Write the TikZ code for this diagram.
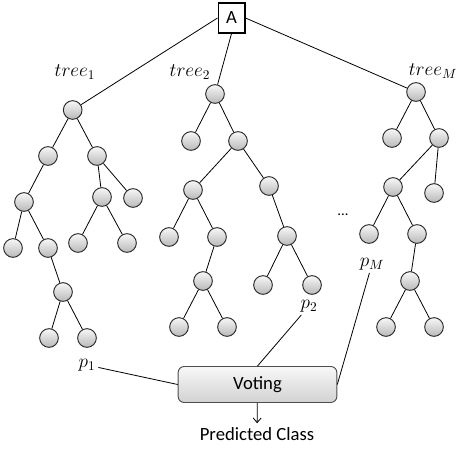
\documentclass[tikz,border=0pt]{standalone}
\usepackage[no-math]{fontspec}
\setmainfont{Carlito}
\usepackage{amsmath}
\usepackage{tikz}
\usetikzlibrary{arrows,arrows.meta,calc}

\begin{document}
\begin{tikzpicture}[x=0.75pt,y=-0.75pt,
        vertex/.style={circle,draw=black!85,line width=0.7pt,inner sep=0pt,minimum size=14pt,top color=gray!6,bottom color=gray!55},
        edge/.style={draw=black,line width=0.6pt},
        mlabel/.style={font=\fontsize{14.5}{16}\selectfont,inner sep=2pt},
        txt/.style={font=\fontsize{14}{16}\selectfont}]
        \useasboundingbox (0,0) rectangle (466,456);
        \node[draw=black,line width=1pt,minimum width=20pt,minimum height=22.5pt,inner sep=0pt,txt] (A) at (231.5,18) {A};
        \node[mlabel] (l1) at (75,72) {$tree_1$};
        \node[mlabel] (l2) at (190,72) {$tree_2$};
        \node[mlabel] (lM) at (433,71) {$tree_M$};
        \node[vertex] (a) at (72.7,110) {};
        \node[vertex] (a1) at (48,156) {};
        \node[vertex] (a2) at (97,156) {};
        \node[vertex] (a11) at (24,202) {};
        \node[vertex] (a21) at (102,197) {};
        \node[vertex] (a22) at (133,198) {};
        \node[vertex] (a111) at (13,248) {};
        \node[vertex] (a112) at (48,248) {};
        \node[vertex] (a211) at (78,243) {};
        \node[vertex] (a212) at (127,243) {};
        \node[vertex] (a1121) at (63,292) {};
        \node[vertex] (a11211) at (49,338) {};
        \node[vertex] (a11212) at (87,338) {};
        \node[vertex] (b) at (215,94) {};
        \node[vertex] (b1) at (191,141) {};
        \node[vertex] (b2) at (238,141) {};
        \node[vertex] (b21) at (193,190) {};
        \node[vertex] (b22) at (269,186) {};
        \node[vertex] (b211) at (169,237) {};
        \node[vertex] (b212) at (217,237) {};
        \node[vertex] (b221) at (287,236) {};
        \node[vertex] (b2121) at (203,281) {};
        \node[vertex] (b2211) at (263,285) {};
        \node[vertex] (b2212) at (312,285) {};
        \node[vertex] (b21211) at (179,327) {};
        \node[vertex] (b21212) at (227,327) {};
        \node[vertex] (c) at (416,92) {};
        \node[vertex] (c1) at (392,138) {};
        \node[vertex] (c2) at (439,138) {};
        \node[vertex] (c21) at (393,187) {};
        \node[vertex] (c22) at (434,193) {};
        \node[vertex] (c211) at (369,234) {};
        \node[vertex] (c212) at (417,234) {};
        \node[vertex] (c2121) at (410,281) {};
        \node[vertex] (c21211) at (386,327) {};
        \node[vertex] (c21212) at (434,327) {};
        \node[font=\fontsize{11}{13}\selectfont] (dots) at (343,215) {...};
        \node[mlabel] (p1) at (87,365) {$p_1$};
        \node[mlabel] (p2) at (309,306) {$p_2$};
        \node[mlabel] (pM) at (372,264) {$p_M$};
        \node[draw=black!70,line width=0.7pt,rounded corners=4.5pt,minimum width=119pt,minimum height=27pt,top color=gray!6,bottom color=gray!35,txt] (vote) at (257.5,384.5) {Voting};
        \node[txt] (pc) at (257,434.5) {Predicted Class};
        \draw[edge] (A.west) -- (a);
        \draw[edge] (A.south) -- (b);
        \draw[edge] (A.east) -- (c);
        \draw[edge] (a) -- (a1) (a) -- (a2) (a1) -- (a11) (a2) -- (a21) (a2) -- (a22)
              (a11) -- (a111) (a11) -- (a112) (a21) -- (a211) (a21) -- (a212)
              (a112) -- (a1121) (a1121) -- (a11211) (a1121) -- (a11212);
        \draw[edge] (b) -- (b1) (b) -- (b2) (b2) -- (b21) (b2) -- (b22)
              (b21) -- (b211) (b21) -- (b212) (b212) -- (b2121)
              (b2121) -- (b21211) (b2121) -- (b21212)
              (b22) -- (b221) (b221) -- (b2211) (b221) -- (b2212);
        \draw[edge] (c) -- (c1) (c) -- (c2) (c2) -- (c21) (c2) -- (c22)
              (c21) -- (c211) (c21) -- (c212) (c212) -- (c2121)
              (c2121) -- (c21211) (c2121) -- (c21212);
        \draw[edge] (p1) -- (vote.west);
        \draw[edge] (p2) -- (vote.north);
        \draw[edge] (pM) -- (vote.east);
        \draw[edge,-{Straight Barb[length=3.5pt,width=6pt]}] (vote) -- (pc);
     \end{tikzpicture}
\end{document}
